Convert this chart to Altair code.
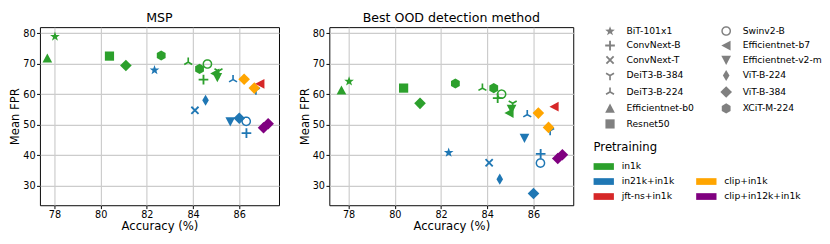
import math
import altair as alt
import pandas as pd

# ---------------- data ----------------
model = [
    "BiT-101x1", "Efficientnet-b0", "Resnet50", "ViT-B-384", "XCiT-M-224",
    "XCiT-M-224", "Swinv2-B", "DeiT3-B-224", "ConvNext-B", "Efficientnet-b7",
    "Efficientnet-v2-m", "DeiT3-B-384",
    "BiT-101x1", "ConvNext-T", "ViT-B-224", "Efficientnet-v2-m", "DeiT3-B-224",
    "ViT-B-384", "Swinv2-B", "ConvNext-B", "DeiT3-B-384",
    "ViT-B-384", "ViT-B-384", "Efficientnet-b7", "ViT-B-384", "ViT-B-384",
]
pretraining = [
    "in1k", "in1k", "in1k", "in1k", "in1k", "in1k", "in1k", "in1k", "in1k",
    "in1k", "in1k", "in1k",
    "in21k+in1k", "in21k+in1k", "in21k+in1k", "in21k+in1k", "in21k+in1k",
    "in21k+in1k", "in21k+in1k", "in21k+in1k", "in21k+in1k",
    "clip+in1k", "clip+in1k", "jft-ns+in1k", "clip+in12k+in1k", "clip+in12k+in1k",
]
accuracy = [
    78.02, 77.69, 80.38, 81.09, 82.62, 84.28, 84.62, 83.79, 84.45, 84.95,
    85.05, 85.10,
    82.33, 84.08, 84.54, 85.61, 85.73, 86.00, 86.30, 86.31, 86.72,
    86.21, 86.65, 86.90, 87.05, 87.25,
]
fpr_msp = [
    78.9, 71.8, 72.5, 69.4, 72.7, 68.3, 69.9, 70.5, 64.8, 66.8,
    65.5, 67.6,
    67.9, 54.7, 58.0, 51.0, 64.8, 52.1, 51.1, 47.2, 61.3,
    64.9, 62.0, 63.4, 49.0, 50.3,
]
fpr_best = [
    64.2, 61.3, 62.0, 57.0, 63.5, 62.0, 60.0, 62.0, 58.7, 53.8,
    55.1, 57.0,
    40.8, 37.5, 32.1, 45.6, 53.3, 27.4, 37.4, 40.4, 48.0,
    53.8, 49.1, 55.9, 38.9, 40.1,
]

x_ticks = [78, 80, 82, 84, 86]
y_ticks = [30, 40, 50, 60, 70, 80]

# legend order (column-major in two columns)
shape_names = [
    "BiT-101x1", "ConvNext-B", "ConvNext-T", "DeiT3-B-384", "DeiT3-B-224",
    "Efficientnet-b0", "Resnet50", "Swinv2-B", "Efficientnet-b7",
    "Efficientnet-v2-m", "ViT-B-224", "ViT-B-384", "XCiT-M-224",
]
color_names = ["in1k", "in21k+in1k", "jft-ns+in1k", " ", "clip+in1k", "clip+in12k+in1k"]
color_values = ["#2ca02c", "#1f77b4", "#d62728", "#ffffff", "#ffa500", "#800080"]


# ---------------- marker shapes (unit box paths) ----------------
def poly(pts):
    return "M" + " L".join(f"{x:.3f},{y:.3f}" for x, y in pts) + " Z"


def regular(n, r, start_deg):
    return [(r * math.cos(math.radians(start_deg + i * 360 / n)),
             r * math.sin(math.radians(start_deg + i * 360 / n))) for i in range(n)]


def star(R=1.05, r=0.42):
    pts = []
    for i in range(10):
        a = math.radians(-90 + i * 36)
        rr = R if i % 2 == 0 else r
        pts.append((rr * math.cos(a), rr * math.sin(a)))
    return poly(pts)


def arm(theta_deg, L, t, back):
    a = math.radians(theta_deg)
    d = (math.cos(a), math.sin(a))
    n = (-d[1], d[0])
    p = [(-back * d[0] + t * n[0], -back * d[1] + t * n[1]),
         (L * d[0] + t * n[0], L * d[1] + t * n[1]),
         (L * d[0] - t * n[0], L * d[1] - t * n[1]),
         (-back * d[0] - t * n[0], -back * d[1] - t * n[1])]
    return poly(p)


def plus(L=1.0, t=0.19):
    return arm(0, L, t, L) + " " + arm(90, L, t, L)


def xmark(L=1.05, t=0.19):
    return arm(45, L, t, L) + " " + arm(135, L, t, L)


def tri(angles, L=0.95, t=0.17):
    return " ".join(arm(a, L, t, t) for a in angles)


def ring(R=1.0, r=0.7, n=36):
    outer = [(R * math.cos(2 * math.pi * i / n), R * math.sin(2 * math.pi * i / n)) for i in range(n)]
    inner = [(r * math.cos(-2 * math.pi * i / n), r * math.sin(-2 * math.pi * i / n)) for i in range(n)]
    return poly(outer) + " " + poly(inner)


shape_paths = {
    "BiT-101x1": star(),
    "ConvNext-B": plus(),
    "ConvNext-T": xmark(),
    "DeiT3-B-384": tri([90, 210, 330]),      # tri_down "Y"
    "DeiT3-B-224": tri([270, 30, 150]),      # tri_up
    "Efficientnet-b0": poly([(0, -1.0), (1.0, 0.9), (-1.0, 0.9)]),
    "Resnet50": poly([(-0.95, -0.95), (0.95, -0.95), (0.95, 0.95), (-0.95, 0.95)]),
    "Swinv2-B": ring(),
    "Efficientnet-b7": poly([(-1.0, 0), (0.9, -1.0), (0.9, 1.0)]),
    "Efficientnet-v2-m": poly([(0, 1.0), (-1.0, -0.9), (1.0, -0.9)]),
    "ViT-B-224": poly([(0, -1.15), (0.68, 0), (0, 1.15), (-0.68, 0)]),
    "ViT-B-384": poly([(0, -1.2), (1.2, 0), (0, 1.2), (-1.2, 0)]),
    "XCiT-M-224": poly(regular(6, 1.05, -90)),
}
shape_range = [shape_paths[n] for n in shape_names]
rect_path = "M-1,-0.33 L1,-0.33 L1,0.33 L-1,0.33 Z"

df = pd.DataFrame({
    "model": model,
    "pretraining": pretraining,
    "accuracy": accuracy,
    "fpr_msp": fpr_msp,
    "fpr_best": fpr_best,
})

FONT = "DejaVu Sans"

shape_legend = alt.Legend(
    title=None, columns=2, orient="none", legendX=584, legendY=-1,
    symbolSize=100, symbolFillColor="#808080", symbolStrokeWidth=0,
    symbolOpacity=1, labelFontSize=9.5, labelOffset=12, rowPadding=5,
    columnPadding=27, labelFont=FONT, labelColor="black",
)
color_legend = alt.Legend(
    title="Pretraining", columns=2, orient="none", legendX=572, legendY=119,
    symbolType=rect_path, symbolSize=441, symbolStrokeWidth=0, symbolOpacity=1,
    labelFontSize=9.5, labelOffset=8, rowPadding=0.5, columnPadding=22,
    titleFontSize=12, titleFontWeight="normal", titleFont=FONT, titleColor="black",
    labelFont=FONT, labelColor="black", titlePadding=2.5,
)


def panel(field, title, width, xdom):
    return alt.Chart(df, title=alt.TitleParams(
        title, fontSize=13, fontWeight="normal", font=FONT, offset=2, color="black"
    )).mark_point(filled=True, size=100, opacity=1, strokeWidth=0).encode(
        x=alt.X("accuracy:Q",
                scale=alt.Scale(domain=xdom, nice=False, zero=False),
                axis=alt.Axis(values=x_ticks, title="Accuracy (%)")),
        y=alt.Y(f"{field}:Q",
                scale=alt.Scale(domain=[23.55, 82.0], nice=False, zero=False),
                axis=alt.Axis(values=y_ticks, title="Mean FPR")),
        shape=alt.Shape("model:N", scale=alt.Scale(domain=shape_names, range=shape_range),
                        legend=shape_legend),
        color=alt.Color("pretraining:N", scale=alt.Scale(domain=color_names, range=color_values),
                        legend=color_legend),
    ).properties(width=width, height=184)


left = panel("fpr_msp", "MSP", 247, [77.37, 87.72])
right = panel("fpr_best", "Best OOD detection method", 252, [77.166, 87.72])

chart = alt.hconcat(left, right, spacing=18).resolve_scale(
    x="independent", y="independent"
).properties(padding=0).configure_view(
    stroke="black", strokeWidth=1
).configure_axis(
    grid=True, gridColor="#cccccc", gridWidth=1.2, domain=False,
    tickColor="black", tickSize=3.5, tickWidth=1,
    labelFontSize=10, labelColor="black", labelFont=FONT, labelPadding=1.5,
    titleFontSize=12, titleFontWeight="normal", titleColor="black", titleFont=FONT,
    titlePadding=1,
)

chart.save("out.html", embed_options={"renderer": "svg", "actions": False})
